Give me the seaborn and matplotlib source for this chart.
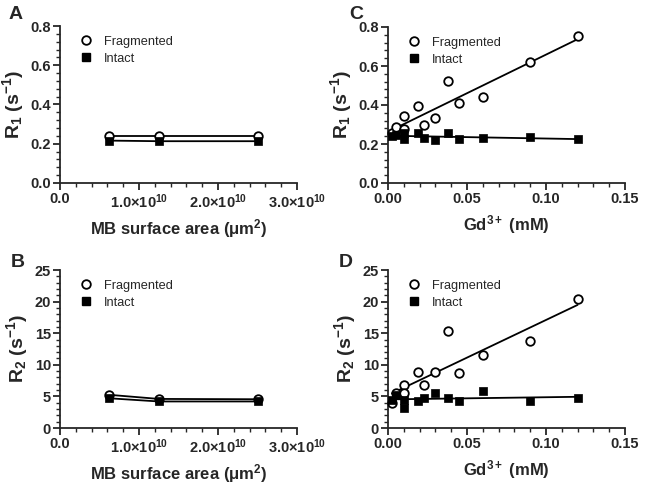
import numpy as np
import pandas as pd
import matplotlib
matplotlib.use("Agg")
import matplotlib.pyplot as plt
from matplotlib.lines import Line2D
from matplotlib.ticker import MultipleLocator, FixedLocator, FixedFormatter
import seaborn as sns

# ---------------- data ----------------
surface_area = [0.625e10, 1.25e10, 2.5e10]
A_fragmented = [0.238, 0.238, 0.238]
A_intact = [0.216, 0.213, 0.213]
B_fragmented = [5.25, 4.6, 4.55]
B_intact = [4.7, 4.2, 4.2]

gd = [0.0025, 0.005, 0.01, 0.01, 0.019, 0.0225, 0.03, 0.038, 0.045, 0.06, 0.09, 0.12]
C_fragmented = [0.258, 0.289, 0.342, 0.277, 0.393, 0.299, 0.333, 0.523, 0.409, 0.441, 0.62, 0.755]
C_intact = [0.241, 0.246, 0.255, 0.226, 0.255, 0.232, 0.221, 0.255, 0.224, 0.229, 0.237, 0.224]
D_fragmented = [4.0, 5.6, 6.75, 5.5, 8.8, 6.75, 8.8, 15.3, 8.76, 11.55, 13.8, 20.4]
D_intact = [4.5, 5.2, 4.5, 3.2, 4.2, 4.8, 5.5, 4.75, 4.2, 5.9, 4.3, 4.8]

sa_ticks = [0.0, 1.0e10, 2.0e10, 3.0e10]
sa_ticklabels = ["0.0", "1.0×10$^{10}$", "2.0×10$^{10}$", "3.0×10$^{10}$"]
series_names = ["Fragmented", "Intact"]
panel_letters = ["A", "B", "C", "D"]

# ---------------- style ----------------
sns.set_style("ticks")
plt.rcParams["font.family"] = ["Liberation Sans", "DejaVu Sans"]
plt.rcParams["mathtext.fontset"] = "custom"
plt.rcParams["mathtext.rm"] = "Liberation Sans:bold"
plt.rcParams["mathtext.bf"] = "Liberation Sans:bold"
plt.rcParams["mathtext.it"] = "Liberation Sans:bold"
plt.rcParams["mathtext.default"] = "bf"

LW = 1.3
fig = plt.figure(figsize=(6.45, 4.88), dpi=100)
W, H = 645.0, 488.0

def make_ax(x0, y_top, x1, y_bot):
    return fig.add_axes([x0 / W, 1 - y_bot / H, (x1 - x0) / W, (y_bot - y_top) / H])

axA = make_ax(60, 26, 297, 183)
axC = make_ax(388, 27, 625, 183)
axB = make_ax(60, 270, 297, 428)
axD = make_ax(388, 270, 625, 428)

frag_kw = dict(marker="o", s=38, facecolor="white", edgecolor="black", linewidth=1.3, zorder=4, clip_on=False)
int_kw = dict(marker="s", s=28, color="black", edgecolor="black", linewidth=0.5, zorder=4, clip_on=False)

def style(ax, ylim, ymajor, yminor, ylabel, xlabel):
    sns.despine(ax=ax)
    for sp in ["left", "bottom"]:
        ax.spines[sp].set_linewidth(LW)
    ax.set_ylim(*ylim)
    ax.yaxis.set_major_locator(MultipleLocator(ymajor))
    ax.yaxis.set_minor_locator(MultipleLocator(yminor))
    ax.tick_params(which="major", direction="out", length=5, width=LW, labelsize=10.5, pad=1.5)
    ax.tick_params(which="minor", direction="out", length=3, width=1.0)
    for lab in ax.get_xticklabels() + ax.get_yticklabels():
        lab.set_fontweight("bold")
    ax.set_ylabel(ylabel, fontsize=14, fontweight="bold", labelpad=3)
    ax.set_xlabel(xlabel, fontsize=12, fontweight="bold", labelpad=5)
    handles = [
        Line2D([], [], marker="o", linestyle="none", markersize=6.2, markerfacecolor="white",
               markeredgecolor="black", markeredgewidth=1.3),
        Line2D([], [], marker="s", linestyle="none", markersize=5.4, markerfacecolor="black",
               markeredgecolor="black"),
    ]
    ax.legend(handles, series_names, loc="upper left", frameon=False, fontsize=9.2,
              bbox_to_anchor=(0.06, 0.97), handletextpad=0.9, labelspacing=0.4,
              handlelength=1.0, borderaxespad=0.0)

# ---------- A & B ----------
for ax, frag, intact, ylim, ymaj, ymin, ylab in [
    (axA, A_fragmented, A_intact, (0, 0.8), 0.2, 0.04, "R$_1$ (s$^{-1}$)"),
    (axB, B_fragmented, B_intact, (0, 25), 5, 1, "R$_2$ (s$^{-1}$)"),
]:
    dfa = pd.DataFrame({"x": surface_area, "frag": frag, "intact": intact})
    sns.lineplot(data=dfa, x="x", y="frag", ax=ax, color="black", lw=LW, zorder=3)
    sns.lineplot(data=dfa, x="x", y="intact", ax=ax, color="black", lw=LW, zorder=3)
    sns.scatterplot(data=dfa, x="x", y="frag", ax=ax, **frag_kw)
    sns.scatterplot(data=dfa, x="x", y="intact", ax=ax, **int_kw)
    ax.set_xlim(0, 3.0e10)
    ax.xaxis.set_major_locator(FixedLocator(sa_ticks))
    ax.xaxis.set_major_formatter(FixedFormatter(sa_ticklabels))
    ax.xaxis.set_minor_locator(MultipleLocator(0.2e10))
    style(ax, ylim, ymaj, ymin, ylab, "MB surface area (μm$^2$)")

# ---------- C & D ----------
for ax, frag, intact, ylim, ymaj, ymin, ylab in [
    (axC, C_fragmented, C_intact, (0, 0.8), 0.2, 0.04, "R$_1$ (s$^{-1}$)"),
    (axD, D_fragmented, D_intact, (0, 25), 5, 1, "R$_2$ (s$^{-1}$)"),
]:
    dfc = pd.DataFrame({"x": gd, "frag": frag, "intact": intact})
    sns.regplot(data=dfc, x="x", y="frag", ax=ax, scatter=False, ci=None, truncate=True,
                color="black", line_kws={"lw": LW, "zorder": 3})
    sns.regplot(data=dfc, x="x", y="intact", ax=ax, scatter=False, ci=None, truncate=True,
                color="black", line_kws={"lw": LW, "zorder": 3})
    sns.scatterplot(data=dfc, x="x", y="frag", ax=ax, **frag_kw)
    sns.scatterplot(data=dfc, x="x", y="intact", ax=ax, **int_kw)
    ax.set_xlim(0, 0.15)
    ax.xaxis.set_major_locator(MultipleLocator(0.05))
    ax.xaxis.set_minor_locator(MultipleLocator(0.01))
    ax.xaxis.set_major_formatter(matplotlib.ticker.FormatStrFormatter("%.2f"))
    style(ax, ylim, ymaj, ymin, ylab, "Gd$^{3+}$ (mM)")

# panel letters
for letter, (px, py) in zip(panel_letters, [(9, 6), (11, 254), (349, 6), (339, 254)]):
    fig.text(px / W, 1 - py / H, letter, fontsize=14, fontweight="bold", va="top", ha="left")

fig.savefig("out.png", dpi=100)
